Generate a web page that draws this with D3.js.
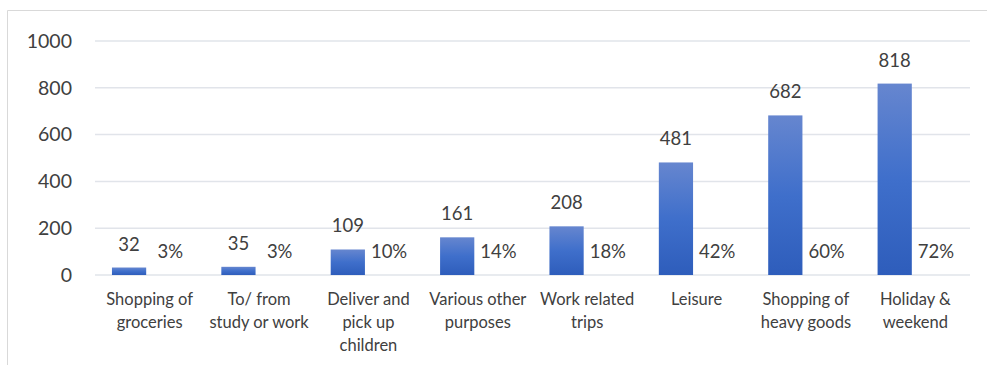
<!DOCTYPE html>
<html>
<head>
<meta charset="utf-8">
<script src="https://cdn.jsdelivr.net/npm/d3@7"></script>
<style>
  body { margin: 0; background: #fff; }
  text { font-family: Lato, "Open Sans", sans-serif; fill: #404040; }
</style>
</head>
<body>
<div id="chart"></div>
<script>
const categories = [
  ['Shopping of', 'groceries'],
  ['To/ from', 'study or work'],
  ['Deliver and', 'pick up', 'children'],
  ['Various other', 'purposes'],
  ['Work related', 'trips'],
  ['Leisure'],
  ['Shopping of', 'heavy goods'],
  ['Holiday &', 'weekend']
];
const counts = [32, 35, 109, 161, 208, 481, 682, 818];
const shares = [3, 3, 10, 14, 18, 42, 60, 72];
const yTicks = [0, 200, 400, 600, 800, 1000];

const width = 987, height = 365;
const margin = {top: 41, right: 17, bottom: 90, left: 95};
const innerW = width - margin.left - margin.right;
const innerH = height - margin.top - margin.bottom;

const svg = d3.select('#chart')
    .append('svg')
    .attr('width', width)
    .attr('height', height);

// chart frame
svg.append('path')
    .attr('d', 'M7.5,' + height + 'V10.5H' + width)
    .attr('fill', 'none')
    .attr('stroke', '#d9d9d9')
    .attr('stroke-width', 1);

const defs = svg.append('defs');
const grad = defs.append('linearGradient')
    .attr('id', 'barGrad')
    .attr('x1', 0).attr('y1', 0).attr('x2', 0).attr('y2', 1);
grad.append('stop').attr('offset', '0%').attr('stop-color', '#6686cf');
grad.append('stop').attr('offset', '50%').attr('stop-color', '#3f6fcb');
grad.append('stop').attr('offset', '100%').attr('stop-color', '#2e5dbb');

const g = svg.append('g')
    .attr('transform', 'translate(' + margin.left + ',' + margin.top + ')');

const idx = d3.range(categories.length);

const xScale = d3.scaleBand()
    .domain(idx)
    .range([0, innerW])
    .paddingInner(0.31)
    .paddingOuter(0.155);

// two series per group: counts, shares
const xSub = d3.scaleBand()
    .domain(['count', 'share'])
    .range([0, xScale.bandwidth()])
    .paddingInner(0.17);

const yScale = d3.scaleLinear()
    .domain([0, 1000])
    .range([innerH, 0]);

// gridlines
g.append('g')
    .selectAll('line')
    .data(yTicks)
    .enter()
    .append('line')
    .attr('x1', 0)
    .attr('x2', innerW)
    .attr('y1', (d) => yScale(d))
    .attr('y2', (d) => yScale(d))
    .attr('stroke', '#e1e4ea')
    .attr('stroke-width', 1.5);

// y axis labels
const yAxis = g.append('g')
    .call(d3.axisLeft(yScale).tickValues(yTicks).tickSize(0).tickPadding(23).tickFormat(d3.format('d')));
yAxis.select('.domain').remove();
yAxis.selectAll('text')
    .style('font-size', '19.5px')
    .style('font-family', 'Lato, "Open Sans", sans-serif')
    .attr('fill', '#404040');

// bars
g.selectAll('.bar')
    .data(idx)
    .enter()
    .append('rect')
    .attr('class', 'bar')
    .attr('x', (i) => xScale(i) + xSub('count'))
    .attr('width', xSub.bandwidth())
    .attr('y', (i) => yScale(counts[i]))
    .attr('height', (i) => innerH - yScale(counts[i]))
    .attr('fill', 'url(#barGrad)');

// count labels
g.selectAll('.cntLabel')
    .data(idx)
    .enter()
    .append('text')
    .attr('class', 'cntLabel')
    .attr('x', (i) => xScale(i) + xSub('count') + xSub.bandwidth() / 2)
    .attr('y', (i) => yScale(counts[i]) - 17)
    .attr('text-anchor', 'middle')
    .style('font-size', '18.5px')
    .text((i) => counts[i]);

// share labels (share bars are too small to see on this axis)
g.selectAll('.shareLabel')
    .data(idx)
    .enter()
    .append('text')
    .attr('class', 'shareLabel')
    .attr('x', (i) => xScale(i) + xSub('share') + xSub.bandwidth() / 2)
    .attr('y', (i) => yScale(shares[i] / 100) - 17)
    .attr('text-anchor', 'middle')
    .style('font-size', '18.5px')
    .text((i) => shares[i] + '%');

// category labels
const catG = g.selectAll('.cat')
    .data(idx)
    .enter()
    .append('text')
    .attr('class', 'cat')
    .attr('text-anchor', 'middle')
    .style('font-size', '16.5px')
    .attr('transform', (i) => 'translate(' + (xScale(i) + xScale.bandwidth() / 2) + ',' + (innerH + 30) + ')');

catG.selectAll('tspan')
    .data((i) => categories[i])
    .enter()
    .append('tspan')
    .attr('x', 0)
    .attr('y', (d, j) => j * 23)
    .text((d) => d);
</script>
</body>
</html>
